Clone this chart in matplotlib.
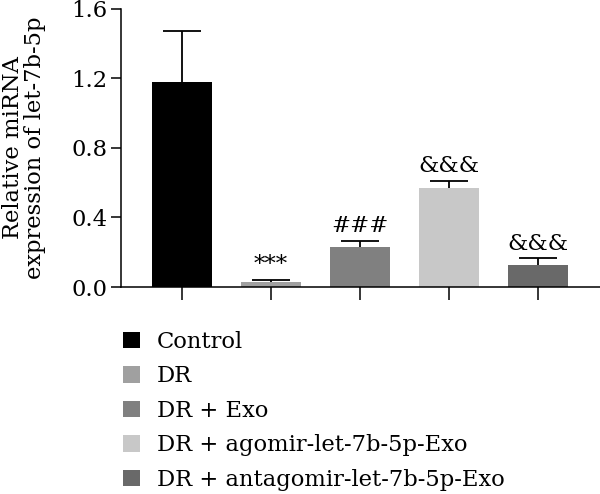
import numpy as np
import matplotlib
matplotlib.use("Agg")
import matplotlib.pyplot as plt
from matplotlib.patches import Patch

# ─── Data ─────────────────────────────────────────────────────────────────────
groups = ["Control", "DR", "DR + Exo", "DR + agomir-let-7b-5p-Exo",
          "DR + antagomir-let-7b-5p-Exo"]
means  = [1.18, 0.03, 0.23, 0.57, 0.125]
errors = [0.29, 0.01, 0.035, 0.04, 0.04]
marks  = ["", "***", "###", "&&&", "&&&"]
colors = ["#000000", "#a0a0a0", "#808080", "#c8c8c8", "#696969"]

plt.rcParams["font.family"] = ["DejaVu Serif"]
plt.rcParams["font.size"] = 16.3

fig = plt.figure(figsize=(6.0, 4.94), dpi=100)
ax = fig.add_axes([0.2017, 0.419, 0.7983, 0.563])

x = np.arange(len(groups))
# error bars sit behind the bars so only the upper whisker shows
ax.errorbar(x, means, yerr=errors, fmt="none", ecolor="black",
            elinewidth=1.3, capsize=14, capthick=1.3, zorder=1)
ax.bar(x, means, width=0.674, color=colors, zorder=2)

for xi, m, e, s in zip(x, means, errors, marks):
    if s:
        ax.text(xi, m + e + 0.022, s, ha="center", va="bottom", fontsize=16.5)

ax.set_xlim(-0.685, 4.70)
ax.set_ylim(0, 1.6)
ax.set_yticks([0.0, 0.4, 0.8, 1.2, 1.6])
ax.set_yticklabels(["0.0", "0.4", "0.8", "1.2", "1.6"])
ax.set_xticks(x)
ax.set_xticklabels([])
ax.tick_params(axis="y", length=7, width=1.1, direction="out", pad=3)
ax.tick_params(axis="x", length=9, width=1.1, direction="out")
for side in ("top", "right"):
    ax.spines[side].set_visible(False)
for side in ("left", "bottom"):
    ax.spines[side].set_linewidth(1.1)

ax.set_ylabel("Relative miRNA\nexpression of let-7b-5p", linespacing=1.02,
              labelpad=18)

handles = [Patch(facecolor=c, edgecolor="none") for c in colors]
fig.legend(handles, groups, loc="upper left", bbox_to_anchor=(0.205, 0.33),
           frameon=False, handlelength=0.75, handleheight=0.75,
           handletextpad=0.75, labelspacing=0.55, borderaxespad=0,
           borderpad=0)

fig.savefig("out.png", dpi=100)
